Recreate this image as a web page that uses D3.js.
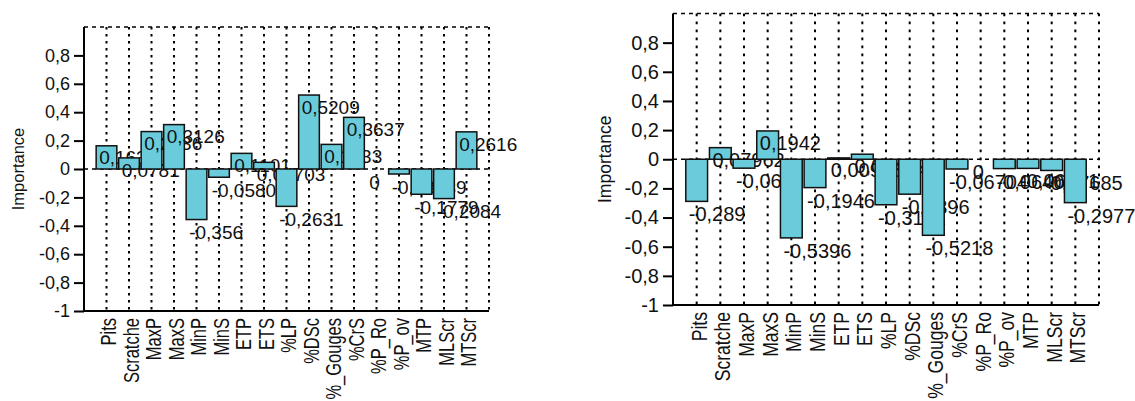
<!DOCTYPE html>
<html><head><meta charset="utf-8">
<script src="https://cdn.jsdelivr.net/npm/d3@7"></script>
<style>body{margin:0;background:#fff}svg{display:block}</style>
</head><body>
<svg id="chart" width="1135" height="401"></svg>
<script>
const categories = ["Pits","Scratche","MaxP","MaxS","MinP","MinS","ETP","ETS","%LP","%DSc","%_Gouges","%CrS","%P_Ro","%P_ov","MTP","MLScr","MTScr"];
const leftValues = [0.1634,0.0781,0.2636,0.3126,-0.356,-0.05804,0.1101,0.04703,-0.2631,0.5209,0.1733,0.3637,0,-0.03539,-0.1779,-0.2084,0.2616];
const rightValues = [-0.289,0.07962,-0.0612,0.1942,-0.5396,-0.1946,0.009062,0.03462,-0.3121,-0.2396,-0.5218,-0.06704,0,-0.06406,-0.06271,-0.07685,-0.2977];
const yTicks = [-1,-0.8,-0.6,-0.4,-0.2,0,0.2,0.4,0.6,0.8];
const yTitle = "Importance";

const svg = d3.select("#chart");
const FONT = "'Liberation Sans', Arial, sans-serif";
const locale = d3.formatLocale({decimal:",", thousands:".", grouping:[3], currency:["",""], minus:"-"});
const fmtLabel = locale.format(".4~r");
const fmtTick = locale.format("~g");

function drawChart(cfg){
  const g = svg.append("g");
  const x = d3.scalePoint().domain(categories).range([cfg.x0, cfg.x1]).padding(1);
  const y = d3.scaleLinear().domain([-1,1]).range([cfg.y0, cfg.y1]);
  const step = x.step();
  const bw = step*0.92;
  const dash = cfg.dash;
  g.selectAll(".vg").data(categories).join("line")
    .attr("x1", d=>x(d)).attr("x2", d=>x(d))
    .attr("y1", y(1)).attr("y2", y(-1))
    .attr("stroke","#000").attr("stroke-width",2).attr("stroke-dasharray",dash);
  g.append("line").attr("x1",cfg.x1).attr("x2",cfg.x1).attr("y1",y(1)).attr("y2",y(-1))
    .attr("stroke","#000").attr("stroke-width",2).attr("stroke-dasharray",dash);
  g.append("line").attr("x1",cfg.x0).attr("x2",cfg.x1).attr("y1",y(1)).attr("y2",y(1))
    .attr("stroke","#000").attr("stroke-width",1.5).attr("stroke-dasharray","4,4");
  g.append("line").attr("x1",cfg.x0).attr("x2",cfg.x1).attr("y1",y(0)).attr("y2",y(0))
    .attr("stroke","#000").attr("stroke-width",1.5).attr("stroke-dasharray","4,4");
  categories.forEach((c,i)=>{
    const v = cfg.values[i];
    g.append("rect")
      .attr("x", x(c)-bw/2).attr("width", bw)
      .attr("y", y(Math.max(0,v))).attr("height", Math.abs(y(v)-y(0)))
      .attr("fill","#6accda").attr("stroke","#111").attr("stroke-width",1.5);
    g.append("text")
      .attr("x", x(c)-bw/2+3)
      .attr("y", y(v) + (v>0 ? 12 : 13))
      .attr("dy","0.35em")
      .attr("font-family",FONT).attr("font-size",cfg.labelSize).attr("fill","#111")
      .text(fmtLabel(v));
  });
  const ya = g.append("g").attr("transform",`translate(${cfg.x0},0)`)
    .call(d3.axisLeft(y).tickValues(yTicks).tickSize(10).tickPadding(4).tickFormat(fmtTick));
  ya.select(".domain").attr("stroke","#000").attr("stroke-width",2).attr("d",`M0,${y(1)}V${y(-1)}`);
  ya.selectAll(".tick line").attr("stroke","#000").attr("stroke-width",2);
  ya.selectAll(".tick text").attr("font-family",FONT).attr("font-size",cfg.tickSize).attr("fill","#111");
  g.append("line").attr("x1",cfg.x0).attr("x2",cfg.x1).attr("y1",y(-1)).attr("y2",y(-1))
    .attr("stroke","#000").attr("stroke-width",2);
  g.selectAll(".cl").data(categories).join("text")
    .attr("transform", d=>`translate(${x(d)},${y(-1)+7}) rotate(-90) scale(${cfg.catScale},1)`)
    .attr("text-anchor","end").attr("dy","0.45em")
    .attr("font-family",FONT).attr("font-size",cfg.catSize).attr("fill","#111")
    .text(d=>d);
  g.append("text")
    .attr("transform",`translate(${cfg.titleX},${(y(1)+y(-1))/2}) rotate(-90)`)
    .attr("text-anchor","middle").attr("dy","0.35em")
    .attr("font-family",FONT).attr("font-size",cfg.titleSize).attr("fill","#111")
    .text(yTitle);
}

drawChart({x0:84, x1:489, y0:311, y1:27, values:leftValues,
  dash:"2.5,4.5", labelSize:19, tickSize:18, catSize:22, catScale:0.75, titleSize:16.5, titleX:18});
drawChart({x0:673, x1:1099, y0:305, y1:13.5, values:rightValues,
  dash:"2.7,5.3", labelSize:20, tickSize:20, catSize:22.5, catScale:0.78, titleSize:17.5, titleX:605});
</script>
</body></html>
